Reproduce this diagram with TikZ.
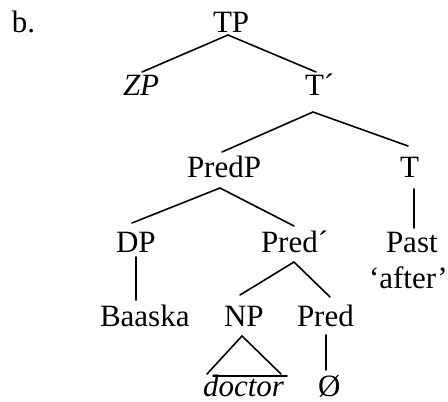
\documentclass[tikz,border=0pt]{standalone}
\usepackage{fontspec}
\setmainfont{Liberation Serif}
\begin{document}
\begin{tikzpicture}[x=1pt,y=-1pt,
  lbl/.style={anchor=base west,inner sep=0pt,outer sep=0pt,font=\fontsize{31}{37}\selectfont},
  branch/.style={line width=1.6pt,line cap=round}]
\useasboundingbox (0,0) rectangle (448,402);

% labels
\node[lbl] (ex)    at (12,32)  {b.};
\node[lbl] (TP)    at (213,32) {TP};
\node[lbl] (ZP)    at (123,95) {\itshape ZP};
\node[lbl] (Tbar)  at (305,95) {T´};
\node[lbl] (PredP) at (187,177) {PredP};
\node[lbl] (T)     at (400,177) {T};
\node[lbl] (DP)    at (116,252) {DP};
\node[lbl] (Predbar) at (261,252) {Pred´};
\node[lbl] (Past)  at (386,252) {Past};
\node[lbl] (gloss) at (369,288) {‘after’};
\node[lbl] (Baaska) at (100,326) {Baaska};
\node[lbl] (NP)    at (224,326) {NP};
\node[lbl] (Pred)  at (297,326) {Pred};
\node[lbl] (doctor) at (203,396) {\itshape doctor};
\node[lbl] (null)  at (318,396) {Ø};

% branch end points
\coordinate (TP-b)    at (228,35);
\coordinate (ZP-t)    at (142,72);
\coordinate (Tbar-t)  at (316,72);
\coordinate (Tbar-b)  at (313,112);
\coordinate (PredP-t) at (222,152);
\coordinate (T-t)     at (408,146);
\coordinate (PredP-b) at (220,188);
\coordinate (DP-t)    at (132,223);
\coordinate (Predbar-t) at (294,226);
\coordinate (T-b)     at (414,189);
\coordinate (Past-t)  at (414,228);
\coordinate (DP-b)    at (136,257);
\coordinate (Baaska-t) at (136,300);
\coordinate (Predbar-b) at (294,262);
\coordinate (NP-t)    at (240,295);
\coordinate (Pred-t)  at (330,297);
\coordinate (NP-b)    at (242,336);
\coordinate (tri-l)   at (207,374);
\coordinate (tri-r)   at (281,374);
\coordinate (base-l)  at (213,376);
\coordinate (base-r)  at (287,376);
\coordinate (Pred-b)  at (326,335);
\coordinate (null-t)  at (326,370);

% branches
\draw[branch] (ZP-t) -- (TP-b) -- (Tbar-t);
\draw[branch] (PredP-t) -- (Tbar-b) -- (T-t);
\draw[branch] (DP-t) -- (PredP-b) -- (Predbar-t);
\draw[branch] (T-b) -- (Past-t);
\draw[branch] (DP-b) -- (Baaska-t);
\draw[branch] (NP-t) -- (Predbar-b) -- (Pred-t);
\draw[branch] (tri-l) -- (NP-b) -- (tri-r);
\draw[branch] (base-l) -- (base-r);
\draw[branch] (Pred-b) -- (null-t);
\end{tikzpicture}
\end{document}
